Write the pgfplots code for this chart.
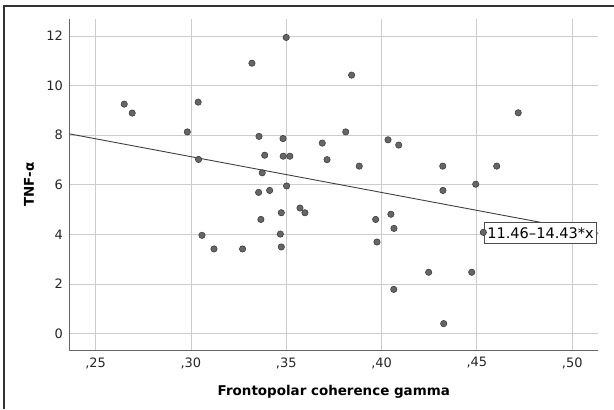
\documentclass[border=0pt]{standalone}
\usepackage{fontspec}
\setmainfont{DejaVu Sans}
\usepackage{pgfplots}
\pgfplotsset{compat=1.18}
\begin{document}
\begin{tikzpicture}[x=1bp,y=1bp]
\useasboundingbox (0,0) rectangle (614,-409);
\draw[line width=1.2bp, color=black!80] (4,-409) -- (4,-6) -- (614,-6);
\begin{axis}[
  at={(69.3bp,-350bp)}, anchor=south west,
  scale only axis, width=529bp, height=330.7bp,
  xmin=0.2362, xmax=0.5137, ymin=-0.665, ymax=12.67,
  axis x line*=bottom, axis y line*=left,
  axis line style={black!60, line width=0.8bp, -},
  xtick={0.25,0.30,0.35,0.40,0.45,0.50},
  xticklabels={{,25},{,30},{,35},{,40},{,45},{,50}},
  ytick={0,2,4,6,8,10,12},
  yticklabels={0,2,4,6,8,10,12},
  major tick length=0pt,
  grid=major, grid style={black!20, line width=0.8bp},
  tick label style={font=\fontsize{13}{15}\selectfont, text=black!85},
  xticklabel style={yshift=-4bp},
  yticklabel style={xshift=-3bp},
  /pgf/number format/assume math mode=true,
  xlabel={Frontopolar coherence gamma},
  xlabel style={font=\fontsize{13.5}{16}\selectfont\bfseries, at={(axis description cs:0.5,-0.139)}, anchor=base},
  ylabel={TNF-α},
  ylabel style={font=\fontsize{13.5}{16}\selectfont\bfseries, at={(axis description cs:-0.0762,0.5)}, anchor=center},
]
\addplot[black!75, line width=0.9bp] coordinates {(0.2362,8.052) (0.5137,4.047)};
\addplot[only marks, mark=*, mark size=3.2bp, mark options={fill=black!60, draw=black!80, line width=0.5bp}] coordinates {
(0.2650,9.25) (0.2692,8.89) (0.2981,8.13) (0.3038,9.33) (0.3040,7.02)
(0.3058,3.96) (0.3121,3.41) (0.3271,3.41) (0.3320,10.90) (0.3357,7.95)
(0.3374,6.48) (0.3387,7.19) (0.3355,5.69) (0.3367,4.60) (0.3413,5.77)
(0.3469,4.01) (0.3474,4.87) (0.3474,3.49) (0.3483,7.86) (0.3484,7.15)
(0.3500,11.94) (0.3502,5.95) (0.3519,7.15) (0.3572,5.06) (0.3598,4.87)
(0.3689,7.68) (0.3714,7.01) (0.3812,8.13) (0.3843,10.42) (0.3883,6.75)
(0.3969,4.60) (0.3976,3.69) (0.4034,7.81) (0.4049,4.81) (0.4064,1.78)
(0.4065,4.24) (0.4090,7.60) (0.4247,2.47) (0.4321,6.75) (0.4322,5.77)
(0.4326,0.40) (0.4473,2.47) (0.4494,6.02) (0.4534,4.08) (0.4604,6.75)
(0.4717,8.90)
};
\node[draw=black!70, fill=white, line width=0.8bp, anchor=west, minimum width=111.7bp, minimum height=21bp, inner sep=1bp, font=\fontsize{14.6}{16}\selectfont] at (axis cs:0.4539,4.045) {11.46–14.43*x};
\end{axis}
\end{tikzpicture}
\end{document}
